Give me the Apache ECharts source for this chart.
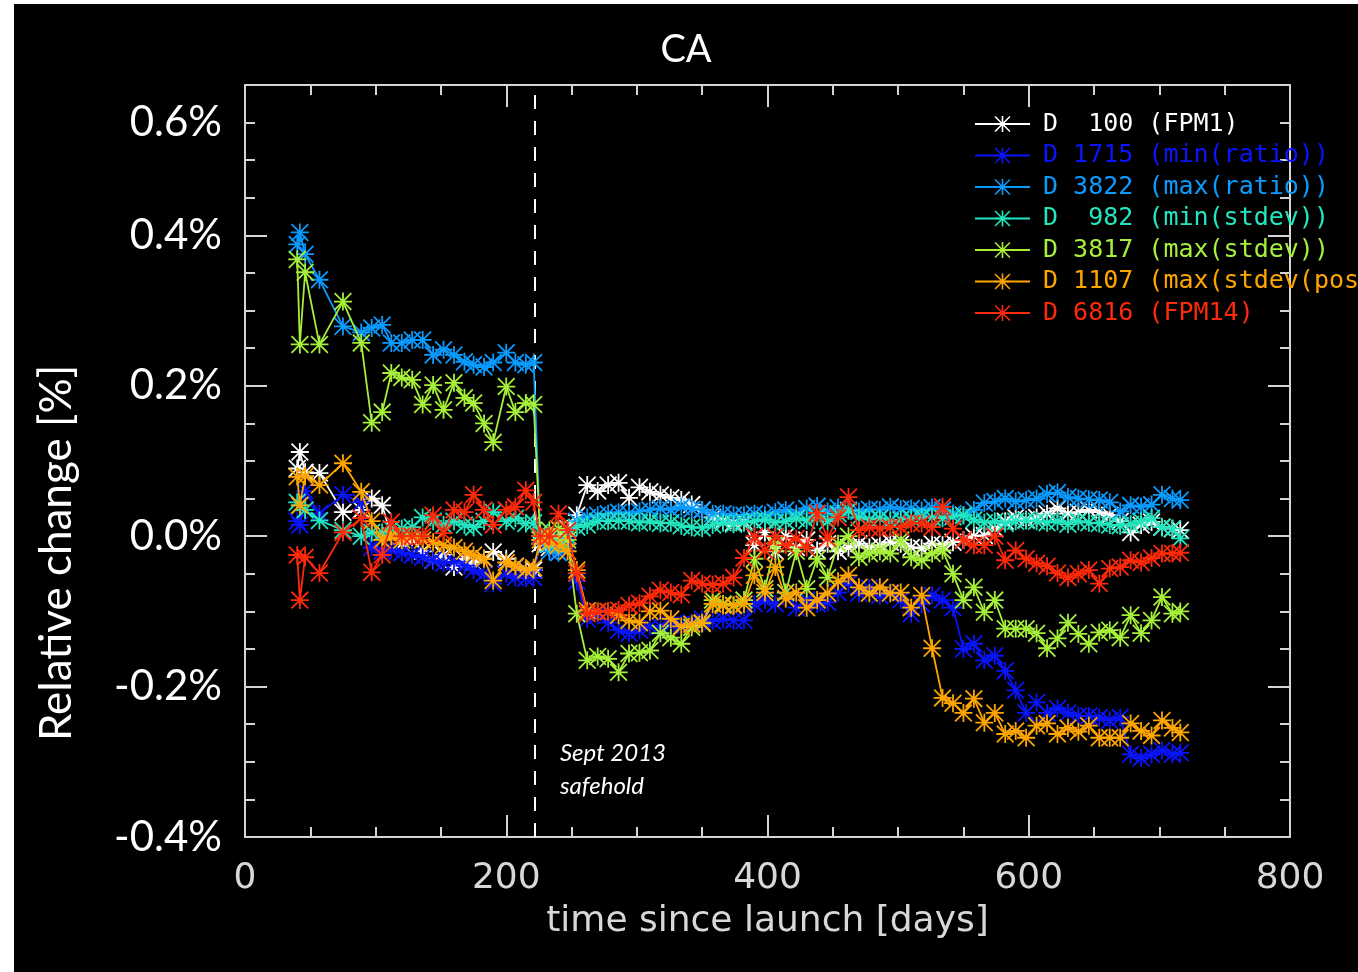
<!DOCTYPE html>
<html>
<head>
<meta charset="utf-8">
<title>CA - relative change</title>
<script src="https://cdn.jsdelivr.net/npm/echarts@6/dist/echarts.min.js"></script>
<style>
    html, body { margin: 0; padding: 0; background: #ffffff; }
    #chart {
        position: absolute;
        left: 14px;
        top: 4px;
        width: 1344px;
        height: 968px;
        background: #000000;
    }
</style>
</head>
<body>
<div id="chart"></div>
<script>
// ---- data ----
const SAFEHOLD_DAY = 222;

const days = [
    40, 42, 46, 57, 75, 89, 97, 105, 112, 120, 128, 136, 144, 152, 160, 168, 175, 183, 190, 200, 207, 215, 221,
    226, 233, 240, 247, 254, 262, 270, 278, 286, 294, 302, 310, 318, 326, 334, 342, 350, 358, 366, 374,
    382, 390, 398, 406, 414, 422, 430, 438, 446, 454, 462, 470, 478, 486, 494, 502, 510, 518, 526, 534,
    542, 550, 558, 566, 574, 582, 590, 598, 606, 614, 622, 630, 638, 646, 654, 662, 670, 678, 686, 694,
    702, 710, 716
];

const d100 = [
    0.09, 0.112, 0.085, 0.084, 0.032, 0.035, 0.05, 0.041, 0.0, -0.01, -0.005, -0.02, -0.032, -0.025, -0.041, -0.03, -0.035, -0.03, -0.021, -0.03, -0.04, -0.045, -0.045,
    -0.01, -0.015, 0.0, 0.01, 0.028, 0.068, 0.06, 0.068, 0.071, 0.051,
    0.065, 0.059, 0.055, 0.051, 0.048, 0.042, 0.035, 0.025, 0.021, 0.018,
    0.02, -0.012, 0.005, -0.02, 0.0, -0.015, -0.005, -0.019, -0.01, -0.02,
    -0.015, -0.01, -0.015, -0.012, -0.008, -0.01, -0.015, -0.016, -0.01, -0.012,
    -0.008, -0.005, 0.0, 0.001, 0.01, 0.02, 0.025, 0.022, 0.025, 0.03,
    0.037, 0.03, 0.032, 0.035, 0.032, 0.028, 0.02, 0.005, 0.015, 0.019,
    0.012, 0.01, 0.008
];

const d1715 = [
    0.02, 0.015, 0.06, 0.03, 0.055, 0.045, -0.015, -0.02, -0.018, -0.022, -0.025, -0.028, -0.032, -0.036, -0.034, -0.039, -0.045, -0.05, -0.063, -0.05, -0.055, -0.056, -0.055,
    0.0, -0.005, -0.02, -0.01, -0.06, -0.11, -0.105, -0.115, -0.125, -0.129,
    -0.125, -0.12, -0.12, -0.118, -0.117, -0.115, -0.11, -0.113, -0.11, -0.112,
    -0.112, -0.09, -0.085, -0.09, -0.075, -0.095, -0.085, -0.09, -0.088, -0.075,
    -0.063, -0.076, -0.069, -0.079, -0.075, -0.085, -0.103, -0.09, -0.079, -0.085,
    -0.095, -0.15, -0.143, -0.165, -0.159, -0.179, -0.205, -0.235, -0.221, -0.235,
    -0.229, -0.235, -0.239, -0.239, -0.241, -0.245, -0.241, -0.29, -0.295, -0.29,
    -0.285, -0.29, -0.288
];

const d3822 = [
    0.388, 0.404, 0.375, 0.341, 0.279, 0.271, 0.277, 0.281, 0.257, 0.257, 0.261, 0.261, 0.241, 0.248, 0.241, 0.232, 0.228, 0.225, 0.231, 0.244, 0.231, 0.228, 0.231,
    0.0, -0.02, -0.022, 0.0, 0.02, 0.025, 0.028, 0.03, 0.032, 0.03,
    0.033, 0.035, 0.037, 0.035, 0.039, 0.036, 0.035, 0.03, 0.03, 0.028,
    0.028, 0.03, 0.028, 0.032, 0.035, 0.03, 0.037, 0.04, 0.033, 0.038,
    0.035, 0.033, 0.036, 0.035, 0.039, 0.036, 0.037, 0.034, 0.038, 0.035,
    0.03, 0.028, 0.035, 0.044, 0.046, 0.05, 0.046, 0.048, 0.05, 0.056,
    0.058, 0.052, 0.05, 0.049, 0.048, 0.045, 0.033, 0.041, 0.039, 0.042,
    0.055, 0.05, 0.048
];

const d982 = [
    0.045, 0.041, 0.035, 0.021, 0.008, 0.0, 0.005, 0.005, 0.01, 0.01, 0.012, 0.025, 0.02, 0.015, 0.02, 0.015, 0.012, 0.02, 0.032, 0.02, 0.024, 0.017, 0.018,
    0.005, -0.01, -0.005, 0.0, 0.012, 0.015, 0.02, 0.02, 0.021, 0.02,
    0.018, 0.02, 0.017, 0.018, 0.014, 0.012, 0.011, 0.015, 0.018, 0.016,
    0.018, 0.02, 0.022, 0.018, 0.02, 0.024, 0.021, 0.026, 0.02, 0.03,
    0.034, 0.025, 0.022, 0.024, 0.02, 0.022, 0.024, 0.026, 0.025, 0.024,
    0.026, 0.028, 0.022, 0.018, 0.02, 0.017, 0.02, 0.021, 0.02, 0.018,
    0.02, 0.016, 0.02, 0.018, 0.017, 0.015, 0.014, 0.016, 0.02, 0.024,
    0.012, 0.01, -0.003
];

const d3817 = [
    0.368, 0.255, 0.351, 0.255, 0.312, 0.257, 0.151, 0.165, 0.217, 0.211, 0.208, 0.175, 0.201, 0.168, 0.204, 0.184, 0.177, 0.15, 0.125, 0.199, 0.165, 0.177, 0.175,
    0.0, 0.008, 0.01, -0.005, -0.103, -0.165, -0.16, -0.163, -0.181, -0.156,
    -0.155, -0.152, -0.129, -0.135, -0.143, -0.121, -0.116, -0.085, -0.09, -0.092,
    -0.085, -0.03, -0.07, -0.01, -0.075, -0.02, -0.07, -0.03, -0.055, -0.01,
    0.0, -0.028, -0.023, -0.02, -0.023, -0.005, -0.028, -0.032, -0.023, -0.019,
    -0.05, -0.085, -0.068, -0.101, -0.085, -0.123, -0.123, -0.123, -0.129, -0.149,
    -0.136, -0.115, -0.13, -0.143, -0.128, -0.125, -0.135, -0.105, -0.129, -0.112,
    -0.081, -0.103, -0.1
];

const d1107 = [
    0.079, 0.041, 0.08, 0.068, 0.097, 0.059, 0.02, -0.005, 0.0, -0.005, 0.0, -0.005, -0.008, -0.012, -0.015, -0.02, -0.025, -0.03, -0.059, -0.035, -0.04, -0.045, -0.042,
    -0.005, -0.008, -0.012, -0.02, -0.045, -0.099, -0.1, -0.1, -0.105, -0.112,
    -0.115, -0.1, -0.099, -0.11, -0.12, -0.117, -0.115, -0.09, -0.092, -0.092,
    -0.09, -0.052, -0.075, -0.041, -0.083, -0.075, -0.095, -0.085, -0.076, -0.06,
    -0.052, -0.068, -0.076, -0.068, -0.076, -0.075, -0.095, -0.079, -0.149, -0.215,
    -0.222, -0.235, -0.216, -0.248, -0.235, -0.263, -0.259, -0.268, -0.252, -0.249,
    -0.263, -0.255, -0.26, -0.252, -0.268, -0.268, -0.268, -0.249, -0.259, -0.265,
    -0.245, -0.255, -0.261
];

const d6816 = [
    -0.025, -0.085, -0.028, -0.049, 0.005, 0.024, -0.048, -0.025, 0.019, 0.0, 0.0, 0.0, 0.028, 0.004, 0.035, 0.032, 0.055, 0.035, 0.015, 0.035, 0.039, 0.061, 0.045,
    0.0, 0.0, 0.03, 0.008, -0.049, -0.103, -0.1, -0.1, -0.098, -0.092,
    -0.089, -0.08, -0.072, -0.075, -0.078, -0.059, -0.063, -0.065, -0.063, -0.055,
    -0.029, 0.0, -0.019, 0.0, -0.012, -0.003, -0.015, 0.031, -0.003, 0.025,
    0.052, 0.008, 0.012, 0.01, 0.012, 0.012, 0.017, 0.017, 0.012, 0.039,
    0.01, -0.005, -0.012, -0.012, 0.0, -0.032, -0.019, -0.03, -0.036, -0.04,
    -0.049, -0.055, -0.05, -0.045, -0.063, -0.043, -0.041, -0.032, -0.035, -0.029,
    -0.023, -0.023, -0.022
];

const seriesNames = [
    'D  100 (FPM1)',
    'D 1715 (min(ratio))',
    'D 3822 (max(ratio))',
    'D  982 (min(stdev))',
    'D 3817 (max(stdev))',
    'D 1107 (max(stdev(postsafehold)))',
    'D 6816 (FPM14)'
];
const seriesValues = [d100, d1715, d3822, d982, d3817, d1107, d6816];
const seriesColors = ['#ffffff', '#0a14ff', '#0a9bff', '#22e6bf', '#a6f03a', '#ffa500', '#ff2a0a'];

const xTicks = { min: 0, max: 800, step: 200 };
const yTicks = { min: -0.4, max: 0.6, step: 0.2 };

// IDL style asterisk (psym=2)
const ASTERISK = 'path://M0,4.5L10,4.5L10,5.5L0,5.5Z M4.5,0L5.5,0L5.5,10L4.5,10Z ' +
    'M0.7,0L10,9.3L9.3,10L0,0.7Z M9.3,0L10,0.7L0.7,10L0,9.3Z M4,4L6,4L6,6L4,6Z';

const FRAME = '#d4d4d4';
const LABEL_FONT = 'Lato, "Open Sans", sans-serif';

/**
 * Build one axis of the plot frame
 */
function frameAxis(extra) {
    return Object.assign({
        type: 'value',
        axisLine: { show: true, onZero: false, lineStyle: { color: FRAME, width: 2 } },
        axisTick: { show: true, inside: true, length: 22, lineStyle: { color: FRAME, width: 2 } },
        minorTick: { show: true, splitNumber: 4, length: 10, lineStyle: { color: FRAME, width: 2 } },
        splitLine: { show: false },
        minorSplitLine: { show: false }
    }, extra);
}

function initChart() {
    const container = document.getElementById('chart');
    const chart = echarts.init(container);

    const series = seriesNames.map((name, i) => ({
        name: name,
        type: 'line',
        data: days.map((d, k) => [d, seriesValues[i][k]]),
        symbol: ASTERISK,
        symbolSize: 18,
        showAllSymbol: true,
        itemStyle: { color: seriesColors[i] },
        lineStyle: { color: seriesColors[i], width: 1.8 },
        emphasis: { disabled: true },
        z: 2 + i
    }));

    // safehold marker
    series[0].markLine = {
        silent: true,
        symbol: ['none', 'none'],
        label: { show: false },
        lineStyle: { color: '#ffffff', type: [14, 12], width: 2 },
        data: [{ xAxis: SAFEHOLD_DAY }],
        z: 1
    };

    const option = {
        backgroundColor: '#000000',
        animation: false,
        title: {
            text: 'CA',
            left: 'center',
            top: 22,
            textStyle: { color: '#ffffff', fontFamily: LABEL_FONT, fontSize: 38, fontWeight: 'normal' }
        },
        legend: {
            orient: 'vertical',
            left: 955,
            top: 101,
            itemWidth: 55,
            itemHeight: 20,
            itemGap: 3.5,
            selectedMode: false,
            textStyle: {
                fontFamily: '"DejaVu Sans Mono", monospace',
                fontSize: 25,
                lineHeight: 28,
                padding: [0, 0, 0, 8]
            },
            data: seriesNames.map((n, i) => ({ name: n, textStyle: { color: seriesColors[i] } }))
        },
        grid: {
            left: 231,
            top: 81,
            width: 1045,
            height: 752,
            containLabel: false,
            outerBoundsMode: 'none'
        },
        xAxis: [
            frameAxis({
                position: 'bottom',
                min: xTicks.min,
                max: xTicks.max,
                interval: xTicks.step,
                axisLabel: { color: '#d8d8d8', fontFamily: '"DejaVu Sans", sans-serif', fontSize: 36, margin: 24 },
                name: 'time since launch [days]',
                nameLocation: 'middle',
                nameGap: 67,
                nameTextStyle: { color: '#d8d8d8', fontFamily: '"DejaVu Sans", sans-serif', fontSize: 36 }
            }),
            frameAxis({
                position: 'top',
                min: xTicks.min,
                max: xTicks.max,
                interval: xTicks.step,
                axisLabel: { show: false }
            })
        ],
        yAxis: [
            frameAxis({
                position: 'left',
                min: yTicks.min,
                max: yTicks.max,
                interval: yTicks.step,
                axisLabel: {
                    color: '#ffffff',
                    fontFamily: LABEL_FONT,
                    fontSize: 42,
                    margin: 23,
                    // the 0.6% label sits lower in the original, drawn as graphic below
                    formatter: v => (Math.abs(v - yTicks.max) < 1e-6 ? '' : v.toFixed(1) + '%')
                }
            }),
            frameAxis({
                position: 'right',
                min: yTicks.min,
                max: yTicks.max,
                interval: yTicks.step,
                axisLabel: { show: false }
            })
        ],
        graphic: [
            {
                type: 'text', x: 208, y: 118,
                style: { text: '0.6%', fill: '#ffffff', font: '42px ' + LABEL_FONT, align: 'right', verticalAlign: 'middle' }
            },
            {
                type: 'text', x: 43, y: 549, rotation: Math.PI / 2,
                style: { text: 'Relative change [%]', fill: '#ffffff', font: '44px ' + LABEL_FONT, align: 'center', verticalAlign: 'middle' }
            },
            {
                type: 'text', x: 546, y: 749,
                style: { text: 'Sept 2013', fill: '#ffffff', font: 'italic 24px ' + LABEL_FONT, align: 'left', verticalAlign: 'middle' }
            },
            {
                type: 'text', x: 546, y: 782,
                style: { text: 'safehold', fill: '#ffffff', font: 'italic 24px ' + LABEL_FONT, align: 'left', verticalAlign: 'middle' }
            }
        ],
        series: series
    };

    chart.setOption(option);
    console.log('[CA] Chart drawn');
}

initChart();
</script>
</body>
</html>
